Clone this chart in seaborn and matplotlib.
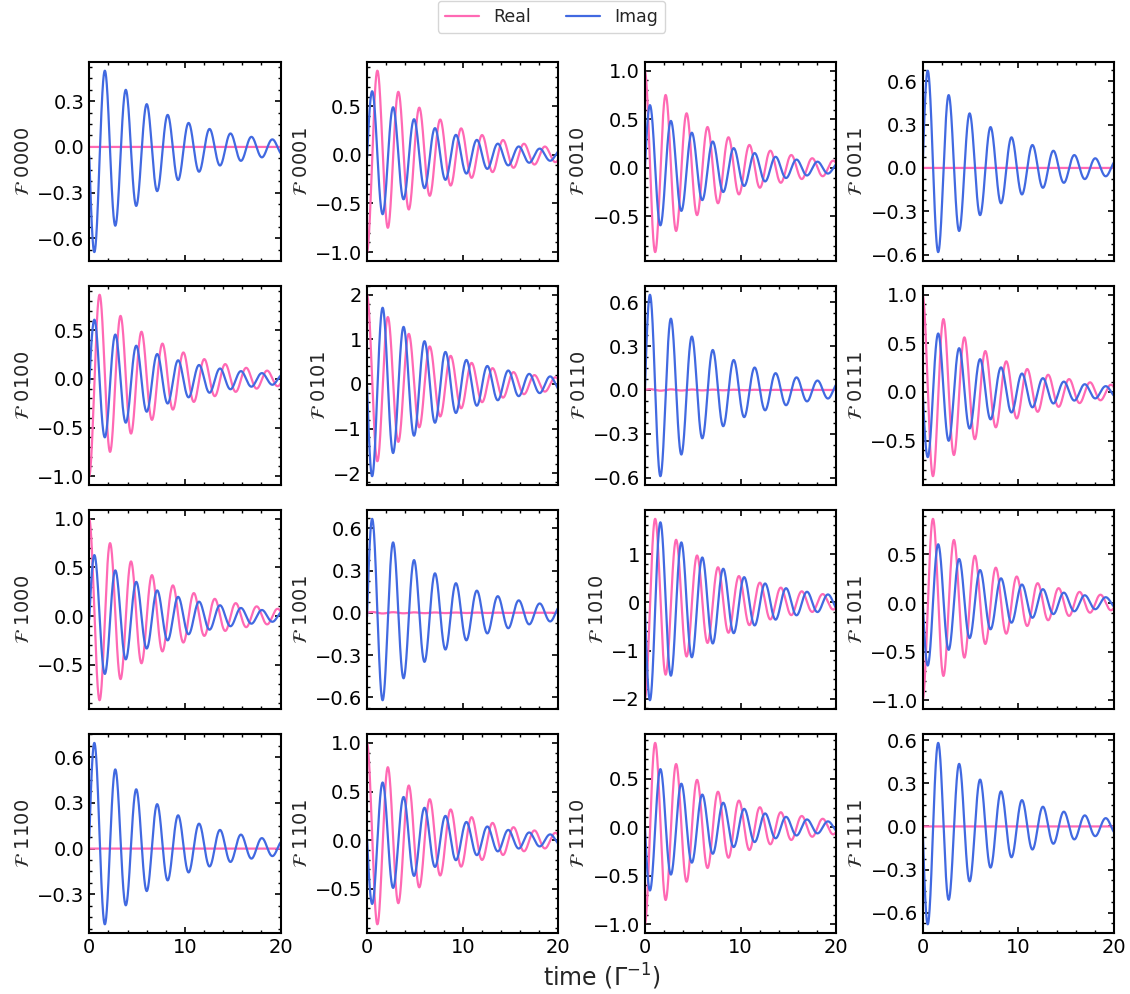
import numpy as np
import pandas as pd
import matplotlib
matplotlib.use("Agg")
import matplotlib.pyplot as plt
from matplotlib.ticker import MaxNLocator, AutoMinorLocator
import seaborn as sns

# Basis-state labels of the 4-qubit register, one panel each
states = ["0000", "0001", "0010", "0011",
          "0100", "0101", "0110", "0111",
          "1000", "1001", "1010", "1011",
          "1100", "1101", "1110", "1111"]

# Shared oscillation frequency and damping rate (units of Gamma)
OMEGA = 2.87
GAMMA = 0.132

# Coefficients of the damped response  e^{-GAMMA t} [c cos(wt) + s sin(wt) + d]
real_cos = [0.0, -1.0, 1.0, 0.0, -1.0, 2.0, 0.0, 1.0,
            1.0, 0.0, -2.0, -1.0, 0.0, 1.0, -1.0, 0.0]
real_sin = [0.0, 0.0, 0.0, 0.0, 0.0, 0.0, 0.006, 0.0,
            0.0, 0.006, 0.0, 0.0, 0.0, 0.0, 0.0, 0.0]
imag_sin = [-0.68, 0.73, 0.713, 0.722, 0.70, -2.17, 0.716, -0.733,
            0.706, 0.744, -2.12, -0.72, 0.68, -0.72, -0.72, -0.726]
imag_off = [-0.06, -0.027, -0.02, 0.0, -0.045, -0.05, -0.016, 0.013,
            -0.033, -0.027, -0.06, 0.03, 0.064, 0.015, 0.02, -0.005]

t = np.linspace(0.0, 20.0, 2001)
env = np.exp(-GAMMA * t)

frames = []
for i, st in enumerate(states):
    re = env * (real_cos[i] * np.cos(OMEGA * t) + real_sin[i] * np.sin(OMEGA * t))
    im = env * (imag_sin[i] * np.sin(OMEGA * t) + imag_off[i])
    frames.append(pd.DataFrame({"state": st, "time": t, "value": re, "part": "Real"}))
    frames.append(pd.DataFrame({"state": st, "time": t, "value": im, "part": "Imag"}))
data = pd.concat(frames, ignore_index=True)

sns.set_theme(style="ticks")
plt.rcParams.update({
    "font.family": ["DejaVu Sans"],
    "font.size": 14,
    "axes.linewidth": 1.5,
    "xtick.direction": "in",
    "ytick.direction": "in",
    "xtick.top": True,
    "ytick.right": True,
    "xtick.labelsize": 14,
    "ytick.labelsize": 14,
    "xtick.color": "black",
    "ytick.color": "black",
    "axes.edgecolor": "black",
    "axes.labelsize": 14,
})

palette = {"Real": "hotpink", "Imag": "royalblue"}

fig, axes = plt.subplots(4, 4, figsize=(11.3, 9.94), dpi=100, sharex=True)
fig.subplots_adjust(left=0.079, right=0.9858, top=0.938, bottom=0.061,
                    wspace=0.452, hspace=0.123)

for ax, st in zip(axes.flat, states):
    sub = data[data["state"] == st]
    sns.lineplot(data=sub, x="time", y="value", hue="part", palette=palette,
                 hue_order=["Real", "Imag"], estimator=None, sort=False,
                 linewidth=1.6, legend=False, ax=ax)
    ax.set_xlim(0, 20)
    ax.yaxis.set_major_locator(MaxNLocator(nbins=5, steps=[1, 2, 3, 5, 10]))
    ax.xaxis.set_minor_locator(AutoMinorLocator())
    ax.yaxis.set_minor_locator(AutoMinorLocator())
    ax.tick_params(which="both", direction="in", top=True, right=True)
    ax.tick_params(which="major", length=4.5, width=1.2)
    ax.tick_params(which="minor", length=2.5, width=1.0)
    ax.set_xlabel("")
    ax.set_ylabel(r"$\mathcal{F}$ " + st, fontsize=14, labelpad=3)

handles = [plt.Line2D([], [], color=palette["Real"], lw=1.6),
           plt.Line2D([], [], color=palette["Imag"], lw=1.6)]
fig.legend(handles, ["Real", "Imag"], loc="upper center",
           bbox_to_anchor=(0.488, 1.008), ncol=2, fontsize=12.5, frameon=True)

x_mid = (fig.subplotpars.left + fig.subplotpars.right) / 2
fig.text(x_mid, 0.017, r"time ($\Gamma^{-1}$)", ha="center", va="center", fontsize=17)

fig.savefig("out.png", dpi=100)
